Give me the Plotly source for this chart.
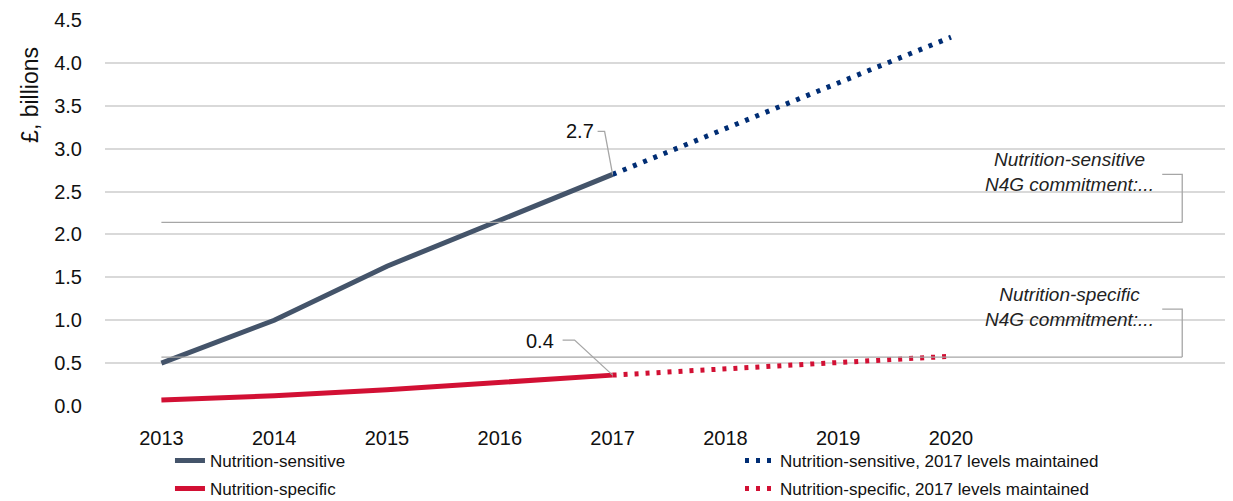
import plotly.graph_objects as go

# values (£ billions)
years = [2013, 2014, 2015, 2016, 2017, 2018, 2019, 2020]
sensitive = [0.50, 1.00, 1.63, 2.16, 2.70]
sensitive_proj = [2.70, 3.23, 3.77, 4.30]
specific = [0.07, 0.12, 0.19, 0.27, 0.36]
specific_proj = [0.36, 0.43, 0.51, 0.58]
commit_sensitive = 2.14
commit_specific = 0.57
y_ticks = [0.0, 0.5, 1.0, 1.5, 2.0, 2.5, 3.0, 3.5, 4.0, 4.5]

SLATE = "#44546a"
RED = "#d21034"
NAVY = "#002d74"
GREY = "#a6a6a6"
FONT = "Liberation Sans"

fig = go.Figure()

# solid actuals in the first legend, dotted projections in the second
fig.add_trace(go.Scatter(x=years[:5], y=sensitive, mode="lines", name="Nutrition-sensitive",
                         legend="legend", legendgroup="a",
                         line=dict(color=SLATE, width=5)))
fig.add_trace(go.Scatter(x=years[:5], y=specific, mode="lines", name="Nutrition-specific",
                         legend="legend", legendgroup="b",
                         line=dict(color=RED, width=5)))
fig.add_trace(go.Scatter(x=years[4:], y=sensitive_proj, mode="lines",
                         name="Nutrition-sensitive, 2017 levels maintained",
                         legend="legend2", legendgroup="c",
                         line=dict(color=NAVY, width=5, dash="4px,7px")))
fig.add_trace(go.Scatter(x=years[4:], y=specific_proj, mode="lines",
                         name="Nutrition-specific, 2017 levels maintained",
                         legend="legend2", legendgroup="d",
                         line=dict(color=RED, width=5, dash="4px,7px")))

# N4G commitment lines
line_end = 2022.05
for c, label in [(commit_sensitive, "Nutrition-sensitive"), (commit_specific, "Nutrition-specific")]:
    fig.add_trace(go.Scatter(x=[years[0], line_end], y=[c, c], mode="lines", showlegend=False,
                             hoverinfo="skip", line=dict(color=GREY, width=1.3)))
    fig.add_shape(type="path", xref="x", yref="y", xsizemode="pixel", ysizemode="pixel",
                  xanchor=line_end, yanchor=c, path="M0,0 V48 H-20",
                  line=dict(color=GREY, width=1.3))
    fig.add_annotation(x=line_end, y=c, xref="x", yref="y", showarrow=False,
                       text=f"<i>{label}<br>N4G commitment:...</i>",
                       xshift=-113, yshift=50, align="center",
                       font=dict(family=FONT, size=19, color="#222"))

# 2017 data labels with elbow leaders
for v, dx, dy, path in [(sensitive[-1], -33, 43, "M0,0 L-8,43 H-15"),
                        (specific[-1], -73, 34, "M0,0 L-38,35 H-50")]:
    fig.add_shape(type="path", xref="x", yref="y", xsizemode="pixel", ysizemode="pixel",
                  xanchor=years[4], yanchor=v, path=path, line=dict(color=GREY, width=1.3))
    fig.add_annotation(x=years[4], y=v, xref="x", yref="y", showarrow=False,
                       text=f"{v:.1f}", xshift=dx, yshift=dy,
                       font=dict(family=FONT, size=20, color="#111"))

# y axis title placed near top like the original
fig.add_annotation(x=-0.066, y=0.806, xref="paper", yref="paper", showarrow=False,
                   xanchor="center", yanchor="middle",
                   text="£, billions", textangle=-90,
                   font=dict(family=FONT, size=23, color="#111"))

legend_style = dict(orientation="v", yref="container", y=0.132, xanchor="left", yanchor="top",
                    tracegroupgap=3, font=dict(family=FONT, size=17, color="#111"),
                    bgcolor="rgba(0,0,0,0)")

fig.update_layout(
    width=1233, height=501,
    margin=dict(l=97, r=0, t=12, b=103, autoexpand=False),
    plot_bgcolor="white", paper_bgcolor="white",
    font=dict(family=FONT, size=19, color="#111"),
    showlegend=True,
    legend=dict(x=0.0572, **legend_style),
    legend2=dict(x=0.559, **legend_style),
    xaxis=dict(range=[2012.5, 2022.571], tickvals=years, ticktext=[str(y) for y in years],
               showgrid=False, zeroline=False, showline=False, ticklabelstandoff=18,
               tickfont=dict(size=20), automargin=False),
    yaxis=dict(range=[0, 4.5], tickvals=y_ticks, ticktext=[f"{t:.1f}" for t in y_ticks],
               showgrid=True, gridcolor="#d9d9d9", gridwidth=1.5, zeroline=False,
               showline=False, ticklabelstandoff=22, tickfont=dict(size=20), automargin=False),
)

fig.write_html("out.html")
